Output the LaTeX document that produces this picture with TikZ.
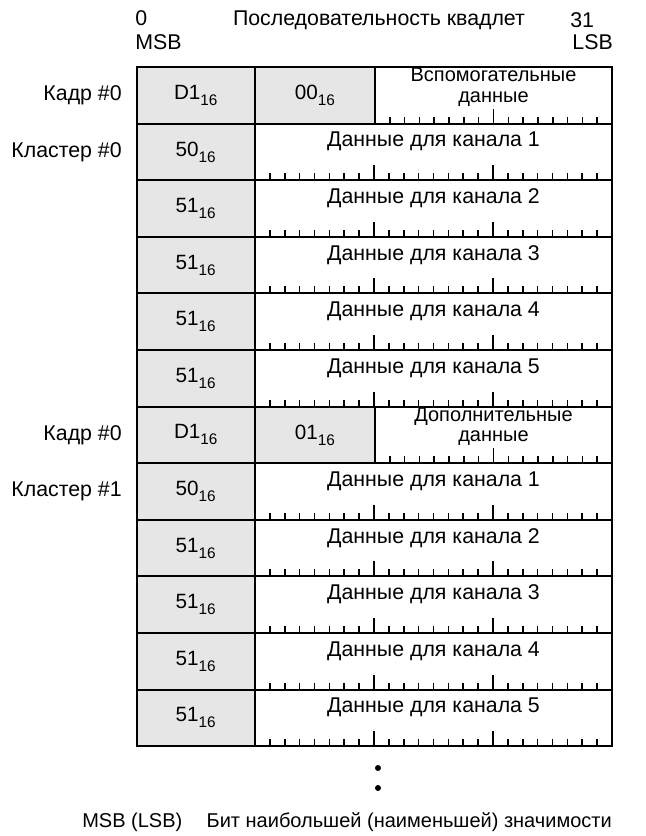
\documentclass[tikz,border=0pt]{standalone}
\usepackage{fontspec}
\setmainfont{Liberation Sans}
\usetikzlibrary{calc}
\definecolor{cellgray}{RGB}{230,230,230}
\newcommand{\hexv}[1]{#1\raisebox{-4.5pt}{\fontsize{11.5}{11.5}\selectfont 16}}
\tikzset{
  idcell/.style={rectangle, draw=black, line width=1.5pt, fill=cellgray,
    minimum width=88.875pt, minimum height=42.45pt, outer sep=0pt,
    font=\fontsize{15.5}{16}\selectfont},
  seqcell/.style={idcell, minimum width=90pt},
  auxcell/.style={rectangle, draw=black, line width=1.5pt, fill=white,
    minimum width=177.75pt, minimum height=42.45pt, outer sep=0pt},
  datacell/.style={auxcell, minimum width=267.75pt},
  datatext/.style={inner sep=0pt, align=center,
    font=\fontsize{16}{17}\selectfont},
  auxtext/.style={datatext, font=\fontsize{15}{15.5}\selectfont},
  lbl/.style={inner sep=0pt, font=\fontsize{16}{17}\selectfont},
  bittick/.style={line width=1.2pt},
  dotmark/.style={circle, fill=black, inner sep=0pt, minimum size=4.5pt}
}

\begin{document}
\begin{tikzpicture}[x=0.75pt, y=-0.75pt]
\useasboundingbox (0,0) rectangle (646,836);

% Header
\node[lbl, anchor=west] (bit0)  at (135,18) {0};
\node[lbl, anchor=west] (msb)   at (135,42) {MSB};
\node[lbl]              (seq)   at (379,20) {Последовательность квадлет};
\node[lbl, anchor=west] (bit31) at (570,20) {31};
\node[lbl, anchor=east] (lsb)   at (613,42) {LSB};

% ── Frame rows (0 and 6) ──────────────────────────────────
\node[idcell]  (id0)  at (195.75,95.3)  {\hexv{D1}};
\node[seqcell] (sq0)  at (315,95.3)     {\hexv{00}};
\node[auxcell] (aux0) at (493.5,95.3)   {};
\node[auxtext] (at0)  at ($(aux0.north)+(0,20)$) {Вспомогательные\\данные};

\node[idcell]  (id6)  at (195.75,434.9) {\hexv{D1}};
\node[seqcell] (sq6)  at (315,434.9)    {\hexv{01}};
\node[auxcell] (aux6) at (493.5,434.9)  {};
\node[auxtext] (at6)  at ($(aux6.north)+(0,20)$) {Дополнительные\\данные};

\foreach \r in {0,6}{
  \foreach \k in {1,...,15}{
    \pgfmathsetmacro\tl{mod(\k,8)==0 ? 15 : 7}
    \draw[bittick] ($(aux\r.south west)+(\k*14.8125,0)$) -- ++(0,-\tl);
  }
}

% ── Channel rows ──────────────────────────────────────────
\foreach \r/\v/\c in {1/50/1, 2/51/2, 3/51/3, 4/51/4, 5/51/5,
                      7/50/1, 8/51/2, 9/51/3, 10/51/4, 11/51/5}{
  \pgfmathsetmacro\yc{95.3+56.6*\r}
  \node[idcell]   (id\r) at (195.75,\yc) {\hexv{\v}};
  \node[datacell] (d\r)  at (433.5,\yc)  {};
  \node[datatext] (t\r)  at ($(d\r.north)+(0,18)$) {Данные для канала \c};
  \foreach \k in {1,...,23}{
    \pgfmathsetmacro\tl{mod(\k,8)==0 ? 15 : 7}
    \draw[bittick] ($(d\r.south west)+(\k*14.875,0)$) -- ++(0,-\tl);
  }
}

% Left labels
\node[lbl, anchor=east] (frame0) at (122,95.3)  {Кадр \#0};
\node[lbl, anchor=east] (clus0)  at (122,151.9) {Кластер \#0};
\node[lbl, anchor=east] (frame1) at (122,434.9) {Кадр \#0};
\node[lbl, anchor=east] (clus1)  at (122,491.5) {Кластер \#1};

% Continuation dots
\node[dotmark] (dot1) at (378,768) {};
\node[dotmark] (dot2) at (378,788) {};

% Legend
\node[lbl, anchor=west, font=\fontsize{15}{16}\selectfont] (legkey) at (82,822)  {MSB (LSB)};
\node[lbl, anchor=east, font=\fontsize{15}{16}\selectfont] (legtxt) at (612,822) {Бит наибольшей (наименьшей) значимости};

\end{tikzpicture}
\end{document}
